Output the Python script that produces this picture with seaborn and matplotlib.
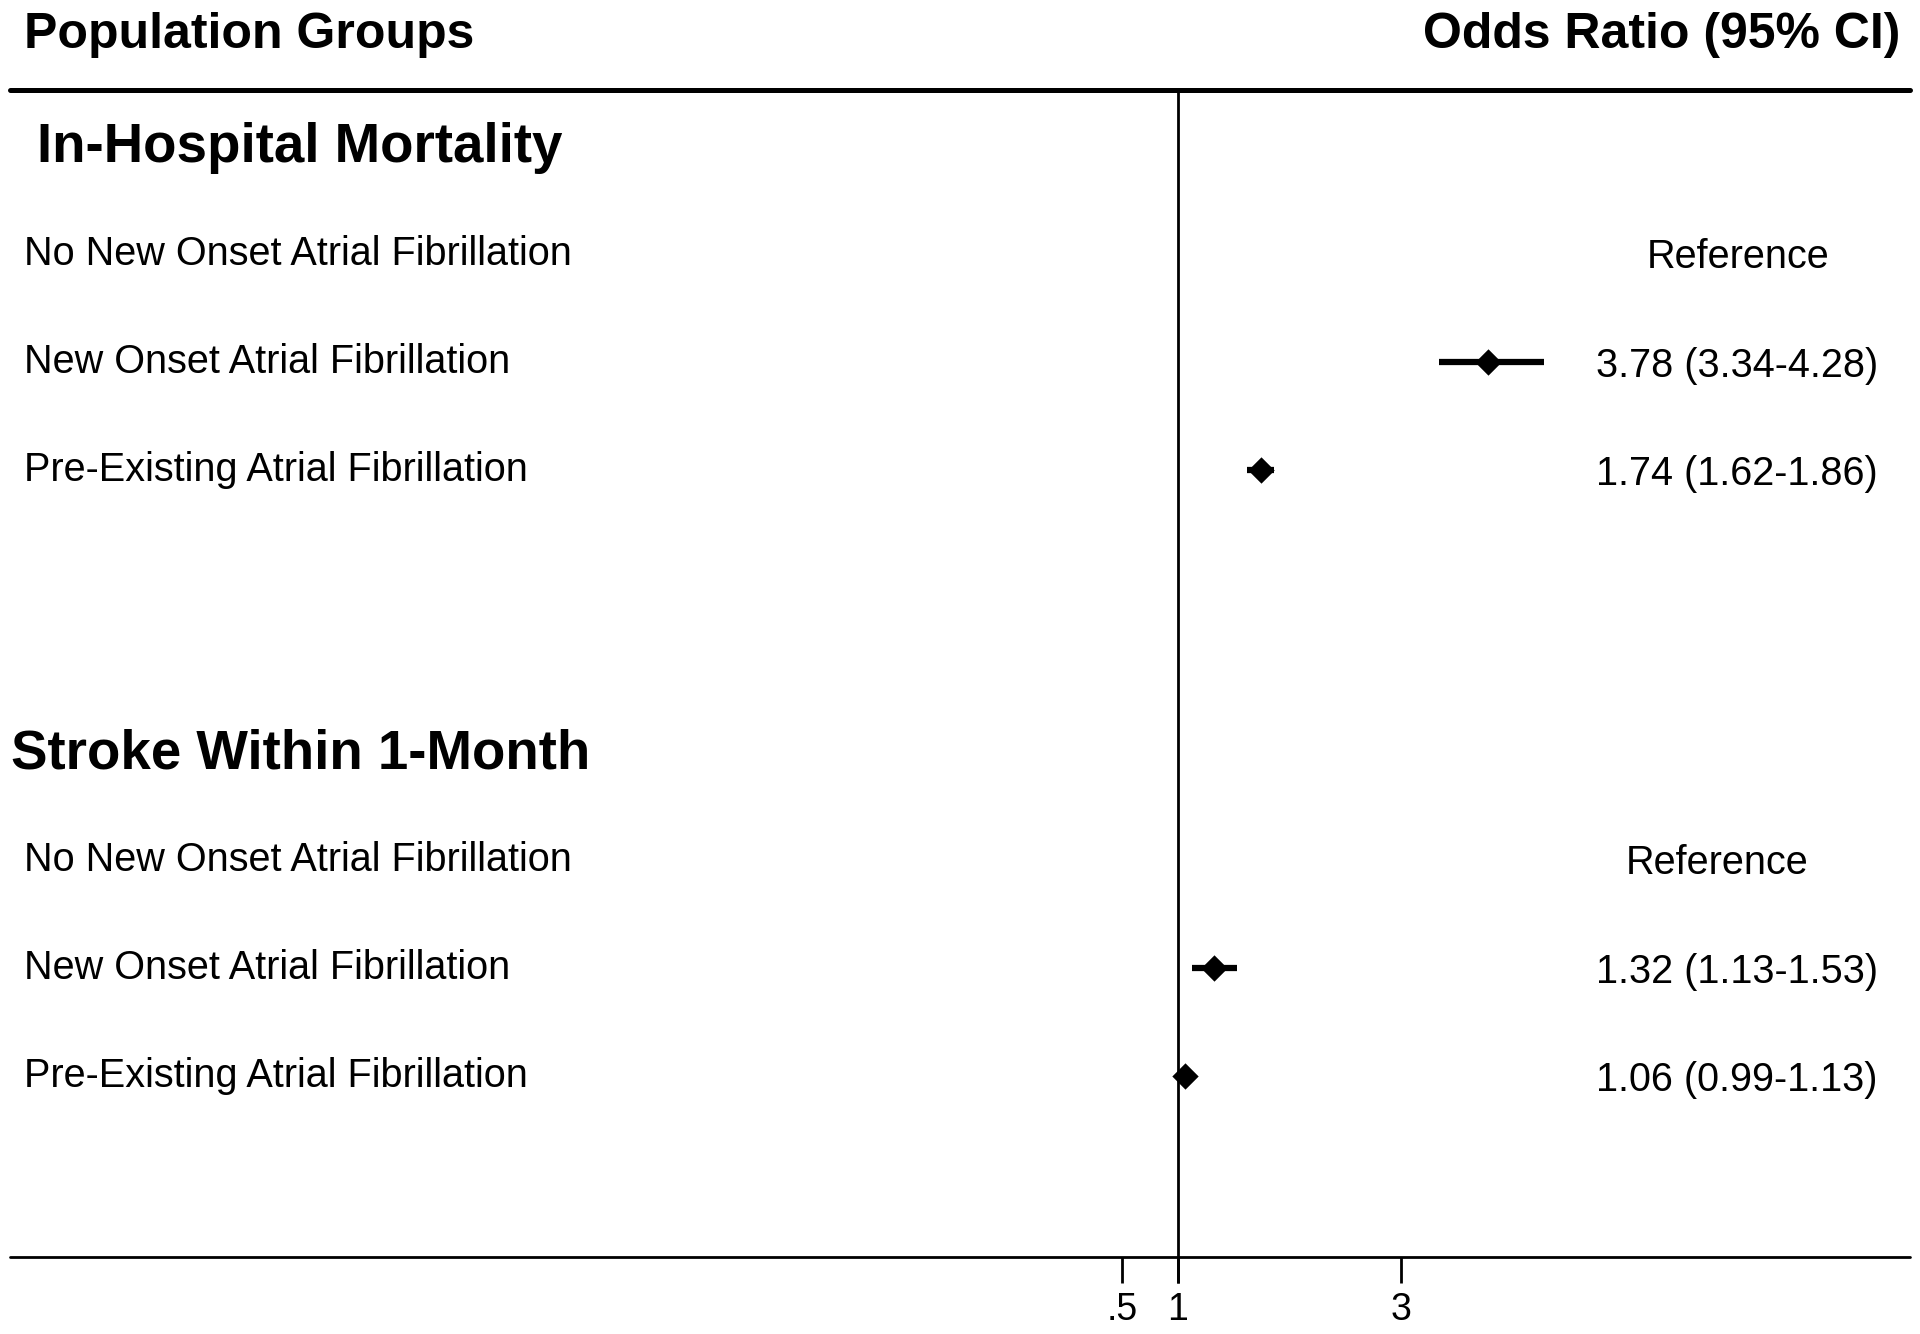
import numpy as np
import pandas as pd
import matplotlib
matplotlib.use("Agg")
from matplotlib import pyplot as plt
from matplotlib import transforms
import seaborn as sns

# Forest plot data (odds ratios with 95% CI)
groups = ["In-Hospital Mortality", "Stroke Within 1-Month"]
populations = ["No New Onset Atrial Fibrillation",
               "New Onset Atrial Fibrillation",
               "Pre-Existing Atrial Fibrillation"]
odds_mortality = [np.nan, 3.78, 1.74]
low_mortality = [np.nan, 3.34, 1.62]
high_mortality = [np.nan, 4.28, 1.86]
odds_stroke = [np.nan, 1.32, 1.06]
low_stroke = [np.nan, 1.13, 0.99]
high_stroke = [np.nan, 1.53, 1.13]
xticks = [0.5, 1, 3]
xtick_labels = [".5", "1", "3"]

# layout: rows in "slot" units, second section offset
SECTION_GAP = 5.61
rows = []
for g, (o, lo, hi) in enumerate([(odds_mortality, low_mortality, high_mortality),
                                  (odds_stroke, low_stroke, high_stroke)]):
    for i, pop in enumerate(populations):
        rows.append({"group": groups[g], "gidx": g, "population": pop,
                     "or": o[i], "lo": lo[i], "hi": hi[i],
                     "slot": g * SECTION_GAP + i + 1})
df = pd.DataFrame(rows)

sns.set_theme(style="white")
plt.rcParams["font.family"] = ["Liberation Sans", "DejaVu Sans"]
plt.rcParams["text.color"] = "black"

W, H = 1920, 1334
fig = plt.figure(figsize=(W / 100, H / 100), dpi=100)
ax = fig.add_axes([0, 0, 1, 1])
blend = transforms.blended_transform_factory(ax.transAxes, ax.transData)

# confidence intervals and point estimates
est = df.dropna(subset=["or"])
ax.hlines(est["slot"], est["lo"], est["hi"], color="black", lw=4.5, zorder=2)
sns.scatterplot(data=est, x="or", y="slot", marker="D", s=180, color="black",
                linewidth=0, ax=ax, zorder=3)

# header line, bottom axis, reference line and ticks
top_y, bot_y, tick_end = -0.52, 10.29, 10.53
ax.axhline(top_y, xmin=10 / W, xmax=1910 / W, color="black", lw=3.6)
ax.axhline(bot_y, xmin=10 / W, xmax=1910 / W, color="black", lw=2)
ax.vlines(1, top_y, tick_end, color="black", lw=2)
ax.vlines(xticks, bot_y, tick_end, color="black", lw=2)
for t, lab in zip(xticks, xtick_labels):
    ax.text(t, 10.87, lab, ha="center", va="baseline", fontsize=27)

# column headers
ax.text(24 / W, -0.907, "Population Groups", transform=blend,
        fontsize=36, fontweight="bold", va="baseline", ha="left")
ax.text(1900 / W, -0.907, "Odds Ratio (95% CI)", transform=blend,
        fontsize=36, fontweight="bold", va="baseline", ha="right")

# section titles
group_x = [37, 11]
for g, name in enumerate(groups):
    ax.text(group_x[g] / W, g * SECTION_GAP + 0.15, name, transform=blend,
            fontsize=39.3, fontweight="bold", va="baseline", ha="left")

# row labels and OR text
ref_x = [1738, 1717]
for _, r in df.iterrows():
    ax.text(24 / W, r["slot"] + 0.1, r["population"], transform=blend,
            fontsize=28.5, va="baseline", ha="left")
    if np.isnan(r["or"]):
        ax.text(ref_x[r["gidx"]] / W, r["slot"] + 0.13, "Reference",
                transform=blend, fontsize=28.5, va="baseline", ha="center")
    else:
        txt = f"{r['or']:.2f} ({r['lo']:.2f}-{r['hi']:.2f})"
        ax.text(1878 / W, r["slot"] + 0.14, txt, transform=blend,
                fontsize=28.5, va="baseline", ha="right")

ax.set_xlim(1 - 1178 / 111.5, 1 + 742 / 111.5)
ax.set_ylim(1 + 1080 / 108, 1 - 254 / 108)
ax.axis("off")

fig.savefig("out.png", dpi=100, facecolor="white")
